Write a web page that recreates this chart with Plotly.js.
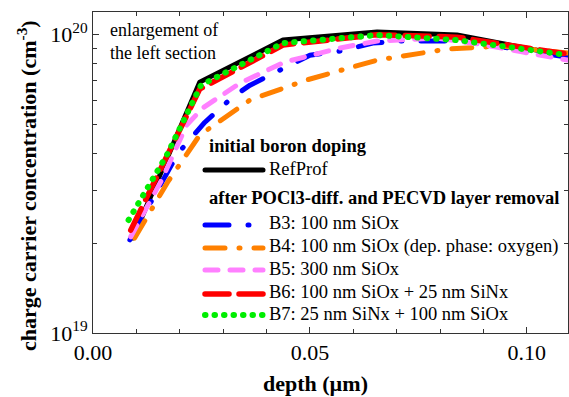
<!DOCTYPE html>
<html><head><meta charset="utf-8">
<script src="https://cdn.plot.ly/plotly-3.0.1.min.js"></script>
<style>
html,body{margin:0;padding:0;background:#fff;}
#chart{width:569px;height:397px;}
.scatterlayer .js-line, .shapelayer path { stroke-linecap: round !important; stroke-linejoin: round !important; }
</style></head><body><div id="chart"></div>
<script>
// ---- data (depth in µm, concentration in cm^-3) ----
const depthRef = [0.0092, 0.0246, 0.0438, 0.0655, 0.0839, 0.1095];
const concRef  = [2.08e19, 6.92e19, 9.57e19, 1.018e20, 9.95e19, 8.46e19];

const depthB3 = [0.0085, 0.0147, 0.0196, 0.0258, 0.0322, 0.0362, 0.0431, 0.0500, 0.0569, 0.0645, 0.0708, 0.0784, 0.0858, 0.1095];
const concB3  = [2.05e19, 2.97e19, 4.00e19, 5.08e19, 6.17e19, 6.76e19, 7.59e19, 8.52e19, 8.79e19, 9.35e19, 9.50e19, 9.50e19, 9.50e19, 8.39e19];

const depthB4 = [0.0096, 0.0172, 0.0246, 0.0362, 0.0493, 0.0655, 0.0816, 0.0939, 0.1095];
const concB4  = [2.08e19, 3.20e19, 4.60e19, 6.03e19, 7.04e19, 8.20e19, 8.93e19, 9.14e19, 8.66e19];

const depthB5 = [0.0087, 0.0158, 0.0216, 0.0253, 0.0339, 0.0442, 0.0569, 0.0655, 0.0793, 0.0892, 0.0992, 0.1095];
const concB5  = [2.10e19, 3.25e19, 4.97e19, 5.67e19, 6.87e19, 8.08e19, 9.00e19, 9.50e19, 9.72e19, 9.28e19, 8.72e19, 8.20e19];

const depthB6 = [0.0087, 0.0246, 0.0438, 0.0655, 0.0839, 0.1095];
const concB6  = [2.21e19, 6.56e19, 9.21e19, 9.98e19, 9.79e19, 8.59e19];

const depthB7 = [0.0082, 0.0170, 0.0249, 0.0438, 0.0655, 0.0839, 0.1095];
const concB7  = [2.39e19, 3.94e19, 6.76e19, 9.35e19, 9.95e19, 9.57e19, 8.52e19];

const seriesNames = ['RefProf', 'B3: 100 nm SiOx', 'B4: 100 nm SiOx (dep. phase: oxygen)', 'B5: 300 nm SiOx', 'B6: 100 nm SiOx + 25 nm SiNx', 'B7: 25 nm SiNx + 100 nm SiOx'];
const groupTitles = ['initial boron doping', 'after POCl3-diff. and PECVD layer removal'];
const noteText = 'enlargement of<br>the left section';
const xTitleText = 'depth (µm)';
const yTitleText = 'charge carrier concentration (cm<sup>-3</sup>)';

const xTickVals = [0, 0.05, 0.10];
const xTickText = ['0.00', '0.05', '0.10'];
const yTickVals = [1e19, 1e20];
const yTickText = ['10<sup>19</sup>', '10<sup>20</sup>'];
const yMinorVals = [2e19, 3e19, 4e19, 5e19, 6e19, 7e19, 8e19, 9e19];

// ---- styles ----
const styles = [
  {color: '#000000', width: 5, dash: 'solid'},
  {color: '#0000FF', width: 5, dash: '24px,19px,1px,19px'},
  {color: '#FF8000', width: 5, dash: '20px,14px,1px,14px'},
  {color: '#FF80FF', width: 5, dash: '13px,12px'},
  {color: '#FF0000', width: 5.5, dash: '24px,10px'},
  {color: '#00EE00', width: 6, dash: '0.5px,9px'}
];
const xs = [depthRef, depthB3, depthB4, depthB5, depthB6, depthB7];
const ys = [concRef, concB3, concB4, concB5, concB6, concB7];

const traces = xs.map((x, i) => ({
  type: 'scatter', mode: 'lines', x: x, y: ys[i], name: seriesNames[i],
  line: {color: styles[i].color, width: styles[i].width, dash: styles[i].dash},
  showlegend: false, hoverinfo: 'skip'
}));

const FONT = 'Liberation Serif, Times New Roman, serif';
const L = 93, R = 568, T = 12, B = 333;
const px = p => (p - L) / (R - L);
const py = p => (B - p) / (B - T);

const annotations = [];
const shapes = [];
// legend
const sampleX0 = 205, sampleX1 = 263, textX = 267, headX = 206.7;
annotations.push({xref: 'paper', yref: 'paper', x: px(headX), y: py(146), xanchor: 'left', yanchor: 'middle', showarrow: false,
  text: '<b>' + groupTitles[0] + '</b>', font: {family: FONT, size: 18.5, color: '#000'}});
annotations.push({xref: 'paper', yref: 'paper', x: px(headX), y: py(198), xanchor: 'left', yanchor: 'middle', showarrow: false,
  text: '<b>' + groupTitles[1] + '</b>', font: {family: FONT, size: 18.5, color: '#000'}});
const lineYs = [170, 225, 248, 270, 294, 315];
const textYs = [169, 223, 246, 269, 292, 314];
seriesNames.forEach((n, i) => {
  shapes.push({type: 'line', xref: 'paper', yref: 'paper', x0: px(sampleX0), x1: px(sampleX1), y0: py(lineYs[i]), y1: py(lineYs[i]),
    line: {color: styles[i].color, width: styles[i].width, dash: styles[i].dash}});
  annotations.push({xref: 'paper', yref: 'paper', x: px(textX), y: py(textYs[i]), xanchor: 'left', yanchor: 'middle', showarrow: false,
    text: n, font: {family: FONT, size: 18.5, color: '#000'}});
});
annotations.push({xref: 'paper', yref: 'paper', x: px(108), y: py(41), xanchor: 'left', yanchor: 'middle', align: 'left', showarrow: false,
  text: noteText, font: {family: FONT, size: 18, color: '#000'}});
// axis titles
annotations.push({xref: 'paper', yref: 'paper', x: px(315), y: py(383), xanchor: 'center', yanchor: 'middle', showarrow: false,
  text: '<b>' + xTitleText + '</b>', font: {family: FONT, size: 22, color: '#000'}});
annotations.push({xref: 'paper', yref: 'paper', x: px(27), y: py(186), xanchor: 'center', yanchor: 'middle', showarrow: false, textangle: -90,
  text: '<b>' + yTitleText + '</b>', font: {family: FONT, size: 22, color: '#000'}});

const layout = {
  width: 569, height: 397,
  margin: {l: L, r: 569 - R, t: T, b: 397 - B, pad: 0},
  paper_bgcolor: '#fff', plot_bgcolor: '#fff',
  font: {family: FONT, size: 22, color: '#000'},
  showlegend: false,
  xaxis: {range: [0, 0.1095], tickmode: 'array', tickvals: xTickVals, ticktext: xTickText,
    ticks: 'inside', ticklen: 6, tickwidth: 1, tickcolor: '#333', showline: true, linecolor: '#333', linewidth: 1,
    mirror: 'ticks', showgrid: false, zeroline: false, tickfont: {family: FONT, size: 22},
    minor: {tickmode: 'linear', tick0: 0, dtick: 0.01, ticks: 'inside', ticklen: 4, tickcolor: '#333', showgrid: false}},
  yaxis: {type: 'log', range: [19, 20.075], tickmode: 'array', tickvals: yTickVals, ticktext: yTickText,
    ticks: 'inside', ticklen: 6, tickwidth: 1, tickcolor: '#333', showline: true, linecolor: '#333', linewidth: 1,
    mirror: 'ticks', showgrid: false, zeroline: false, tickfont: {family: FONT, size: 22},
    minor: {tickmode: 'array', tickvals: yMinorVals, ticks: 'inside', ticklen: 4, tickcolor: '#333', showgrid: false}},
  annotations: annotations, shapes: shapes
};

Plotly.newPlot('chart', traces, layout, {staticPlot: true, displayModeBar: false});
</script></body></html>
